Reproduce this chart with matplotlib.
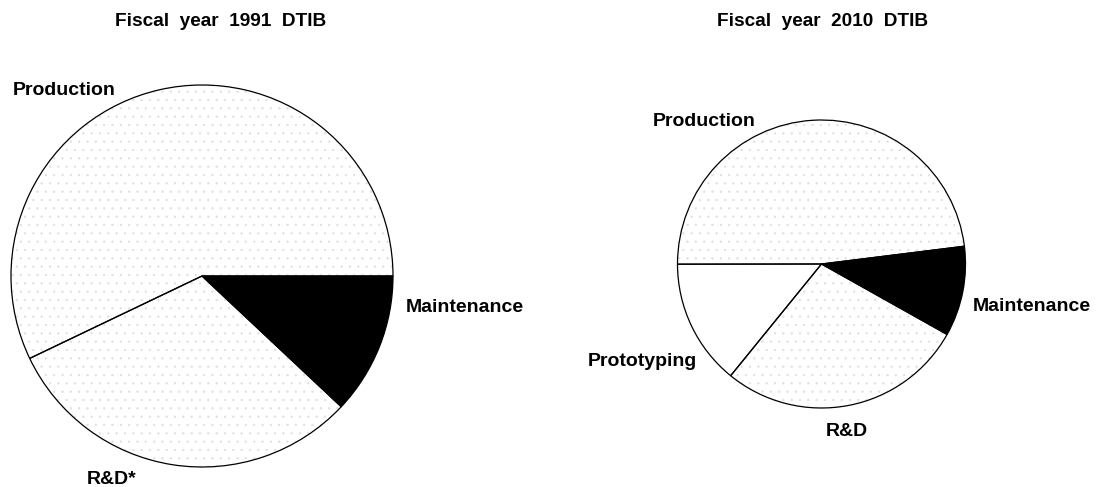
import matplotlib
matplotlib.use("Agg")
import matplotlib.pyplot as plt

# ---- data (percent shares) ----
labels_1991 = ["Production", "R&D*", "Maintenance"]
values_1991 = [57.1, 30.9, 12.0]
labels_2010 = ["Production", "Prototyping", "R&D", "Maintenance"]
values_2010 = [48.0, 14.1, 27.7, 10.1]
titles = ["Fiscal  year  1991  DTIB", "Fiscal  year  2010  DTIB"]

W, H = 1096, 487
plt.rcParams['font.family'] = ['Liberation Sans', 'DejaVu Sans']
plt.rcParams['hatch.linewidth'] = 0.4

fig = plt.figure(figsize=(W / 100, H / 100), dpi=100)
fig.patch.set_facecolor("white")

style = {
    "Production": dict(fc="white", hatch=".."),
    "R&D*": dict(fc="white", hatch=".."),
    "R&D": dict(fc="white", hatch=".."),
    "Prototyping": dict(fc="white", hatch=None),
    "Maintenance": dict(fc="black", hatch=None),
}


def make_ax(cx, cy, r):
    ax = fig.add_axes([(cx - r) / W, (H - cy - r) / H, 2 * r / W, 2 * r / H])
    ax.set_aspect("equal")
    ax.axis("off")
    return ax


def draw_pie(ax, labels, values, start):
    # stipple layer
    wedges, _ = ax.pie(values, startangle=start, counterclock=True, radius=1,
                       wedgeprops=dict(linewidth=0))
    for w, lab in zip(wedges, labels):
        st = style[lab]
        w.set_facecolor(st["fc"])
        if st["hatch"]:
            w.set_hatch(st["hatch"])
            w.set_edgecolor("#dedede")
        else:
            w.set_edgecolor(st["fc"])
    # outline layer
    ax.pie(values, startangle=start, counterclock=True, radius=1,
           wedgeprops=dict(linewidth=0.9, edgecolor="black", fill=False))
    ax.set_xlim(-1.0, 1.0)
    ax.set_ylim(-1.0, 1.0)


ax1 = make_ax(202, 276, 191)
draw_pie(ax1, labels_1991, values_1991, 0)
ax2 = make_ax(821.5, 264, 144)
draw_pie(ax2, labels_2010, values_2010, 7.1)

tkw = dict(fontsize=13.7, fontweight="bold", ha="center", va="baseline")
fig.text(221 / W, 1 - 26 / H, titles[0], **tkw)
fig.text(823 / W, 1 - 26 / H, titles[1], **tkw)

lkw = dict(fontsize=14, fontweight="bold", va="baseline", ha="center")
# label anchor positions in pixels (x centre, baseline y)
pos_1991 = {"Production": (64, 95), "R&D*": (112, 484),
            "Maintenance": (465, 311.5)}
pos_2010 = {"Production": (704, 126), "Prototyping": (642, 365.5),
            "R&D": (847, 436), "Maintenance": (1032, 311)}
for lab in labels_1991:
    x, y = pos_1991[lab]
    fig.text(x / W, 1 - y / H, lab, **lkw)
for lab in labels_2010:
    x, y = pos_2010[lab]
    fig.text(x / W, 1 - y / H, lab, **lkw)

fig.savefig("out.png", dpi=100, facecolor="white")
